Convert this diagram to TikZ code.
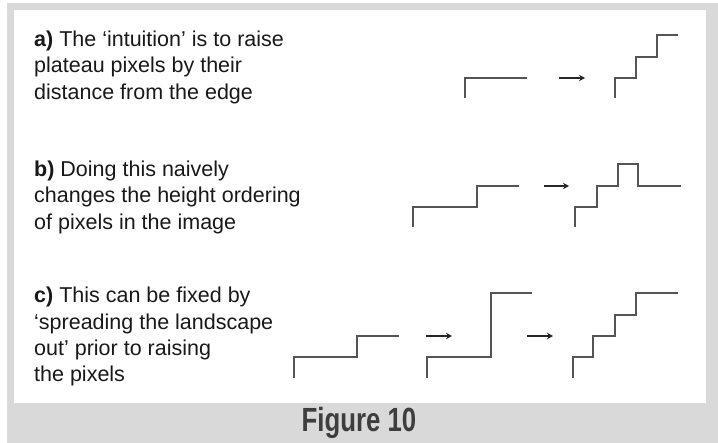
\documentclass[tikz,border=0pt]{standalone}
\usepackage{fontspec}
\setmainfont{Liberation Sans}
\usetikzlibrary{arrows.meta}
\definecolor{framegray}{HTML}{D9D9D9}
\definecolor{stepgray}{HTML}{555555}
\definecolor{titlegray}{HTML}{3E3E3E}
\begin{document}
\begin{tikzpicture}[x=1pt,y=-1pt,
  stair/.style={draw=stepgray,line width=1.9pt,line join=miter},
  goarrow/.style={draw=black!85,line width=1.8pt,-{Stealth[length=6pt,width=6.5pt]}},
  txt/.style={anchor=base west,inner sep=0pt,font=\fontsize{21.5}{26}\selectfont,text=black!90},
  titletxt/.style={anchor=base,inner sep=0pt,text=titlegray,font=\fontsize{33.5}{36}\selectfont\bfseries}]
\useasboundingbox (0,0) rectangle (718,443);
\fill[white] (0,0) rectangle (718,443);
\fill[framegray] (7,3) rectangle (718,443);
\fill[white] (14,10) rectangle (706,403);
% texts
\node[txt] (a1) at (34,46.5) {\textbf{a)} The ‘intuition’ is to raise};
\node[txt] (a2) at (34,72.8) {plateau pixels by their};
\node[txt] (a3) at (34,99.1) {distance from the edge};
\node[txt] (b1) at (34,176.7) {\textbf{b)} Doing this naively};
\node[txt] (b2) at (34,203) {changes the height ordering};
\node[txt] (b3) at (34,229.3) {of pixels in the image};
\node[txt] (c1) at (34,303) {\textbf{c)} This can be fixed by};
\node[txt] (c2) at (34,329.3) {‘spreading the landscape};
\node[txt] (c3) at (34,355.6) {out’ prior to raising};
\node[txt] (c4) at (34,381.9) {the pixels};
\node[titletxt] (title) at (359,432) {\scalebox{0.77}[1]{Figure 10}};
% panel a
\draw[stair] (465,98)--(465,78)--(527,78);
\coordinate (aA) at (559,78); \coordinate (aB) at (585,78);
\draw[goarrow] (aA)--(aB);
\draw[stair] (615,98)--(615,78)--(636,78)--(636,57)--(657,57)--(657,35)--(678,35);
% panel b
\draw[stair] (413,227)--(413,207)--(477,207)--(477,186)--(519,186);
\coordinate (bA) at (544,186); \coordinate (bB) at (569,186);
\draw[goarrow] (bA)--(bB);
\draw[stair] (575,227)--(575,207)--(597,207)--(597,186)--(618,186)--(618,164)--(638,164)--(638,186)--(681,186);
% panel c
\draw[stair] (294,378)--(294,357)--(357,357)--(357,336)--(399,336);
\coordinate (cA) at (426,336); \coordinate (cB) at (452,336);
\draw[goarrow] (cA)--(cB);
\draw[stair] (427,378)--(427,357)--(491,357)--(491,293)--(532,293);
\coordinate (cC) at (527,336); \coordinate (cD) at (553,336);
\draw[goarrow] (cC)--(cD);
\draw[stair] (573,378)--(573,357)--(593,357)--(593,336)--(615,336)--(615,315)--(636,315)--(636,293)--(678,293);
\end{tikzpicture}
\end{document}
